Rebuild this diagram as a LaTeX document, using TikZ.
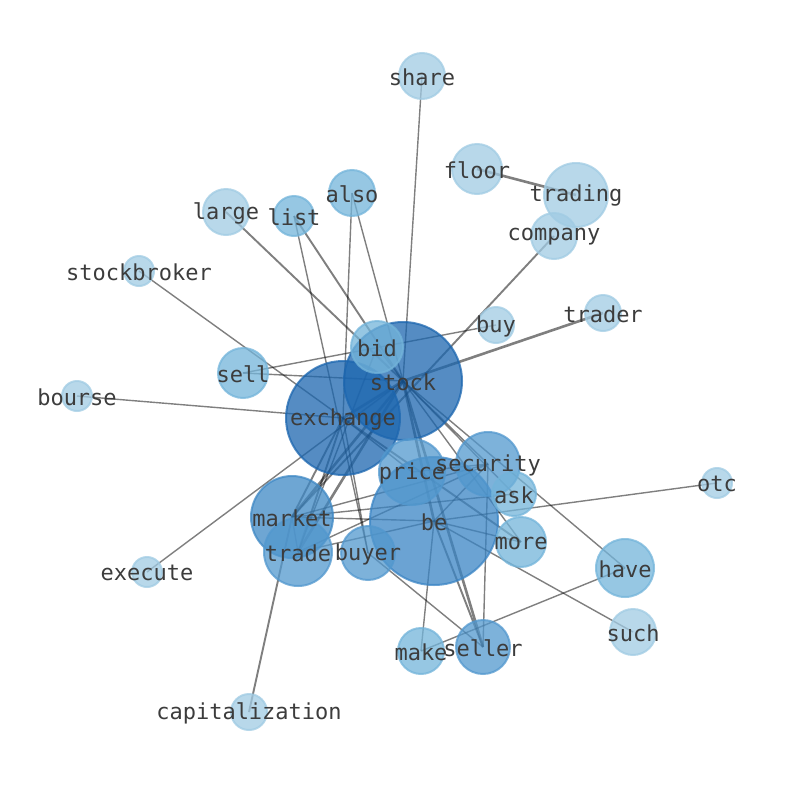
\documentclass[tikz,border=0pt]{standalone}
\usepackage{fontspec}
\newfontfamily\lblfont{DejaVu Sans Mono}
\definecolor{cA}{RGB}{160,203,227}
\definecolor{cB}{RGB}{115,180,218}
\definecolor{cC}{RGB}{82,152,206}
\definecolor{cD}{RGB}{62,136,196}
\definecolor{cE}{RGB}{58,132,196}
\definecolor{cF}{RGB}{28,102,175}
\definecolor{txt}{RGB}{60,60,60}
\tikzset{
  nd/.style={circle, inner sep=0pt, line width=2pt, fill opacity=0.75, draw opacity=0.75},
  lbl/.style={inner sep=0pt, text=txt, font=\lblfont\fontsize{22}{22}\selectfont},
  ethin/.style={draw=black, draw opacity=0.5, line width=1.4pt},
  emed/.style={draw=black, draw opacity=0.5, line width=1.9pt},
  ethk/.style={draw=black, draw opacity=0.5, line width=2.6pt},
}
\newcommand{\wnode}[5]{\node[nd, fill=#2, draw=#2, minimum size=#5pt] (#1) at (#3,#4) {};}
\begin{document}
\begin{tikzpicture}[x=1pt,y=-1pt]
\useasboundingbox (0,0) rectangle (794,790);
\coordinate (share) at (422,76);
\coordinate (floor) at (477,169);
\coordinate (trading) at (576,195);
\coordinate (also) at (352,193);
\coordinate (large) at (226,212);
\coordinate (list) at (294,216);
\coordinate (company) at (554,236);
\coordinate (stockbroker) at (139,271);
\coordinate (trader) at (603,313);
\coordinate (buy) at (496,325);
\coordinate (bid) at (377,347);
\coordinate (stock) at (403,381);
\coordinate (sell) at (243,373);
\coordinate (bourse) at (77,396);
\coordinate (exchange) at (343,418);
\coordinate (price) at (412,472);
\coordinate (security) at (488,464);
\coordinate (ask) at (514,494);
\coordinate (otc) at (717,483);
\coordinate (market) at (292,517);
\coordinate (be) at (434,521);
\coordinate (more) at (521,542);
\coordinate (trade) at (298,552);
\coordinate (buyer) at (368,553);
\coordinate (execute) at (147,572);
\coordinate (have) at (625,568);
\coordinate (such) at (633,632);
\coordinate (make) at (421,651);
\coordinate (seller) at (483,647);
\coordinate (capitalization) at (249,712);
% edges
\draw[ethin] (share) -- (stock);
\draw[ethk] (floor) -- (trading);
\draw[emed] (company) -- (market);
\draw[ethk] (trader) -- (stock);
\draw[ethin] (sell) -- (buy);
\draw[ethin] (sell) -- (stock);
\draw[ethin] (bourse) -- (exchange);
\draw[ethin] (stockbroker) -- (exchange);
\draw[emed] (large) -- (stock);
\draw[emed] (list) -- (stock);
\draw[ethin] (list) -- (buyer);
\draw[ethin] (also) -- (stock);
\draw[ethin] (also) -- (exchange);
\draw[ethin] (execute) -- (stock);
\draw[emed] (capitalization) -- (market);
\draw[ethin] (otc) -- (be);
\draw[ethin] (have) -- (stock);
\draw[ethin] (have) -- (make);
\draw[ethin] (such) -- (be);
\draw[ethin] (make) -- (be);
\draw[emed] (seller) -- (be);
\draw[ethk] (seller) -- (stock);
\draw[ethin] (seller) -- (security);
\draw[ethin] (seller) -- (buyer);
\draw[ethin] (exchange) -- (buyer);
\draw[ethin] (market) -- (be);
\draw[ethin] (trade) -- (be);
\draw[ethin] (market) -- (security);
\draw[ethin] (stock) -- (more);
\draw[ethk] (stock) -- (exchange);
\draw[ethin] (stock) -- (bid);
\draw[ethk] (stock) -- (be);
\draw[ethk] (stock) -- (market);
\draw[ethk] (stock) -- (trade);
\draw[emed] (exchange) -- (market);
\draw[emed] (exchange) -- (trade);
\draw[emed] (exchange) -- (more);
\draw[ethin] (exchange) -- (price);
\draw[ethin] (stock) -- (security);
\draw[ethin] (stock) -- (ask);
\draw[ethin] (be) -- (security);
\draw[ethin] (be) -- (more);
\draw[ethin] (market) -- (ask);
\draw[ethin] (trade) -- (security);
\draw[ethin] (market) -- (trade);
\draw[ethin] (bid) -- (trade);
\draw[ethin] (price) -- (security);
% nodes
\wnode{nshare}{cA}{422}{76}{46}
\wnode{nfloor}{cA}{477}{169}{50}
\wnode{ntrading}{cA}{576}{195}{64}
\wnode{nalso}{cB}{352}{193}{46}
\wnode{nlarge}{cA}{226}{212}{46}
\wnode{nlist}{cB}{294}{216}{40}
\wnode{ncompany}{cA}{554}{236}{46}
\wnode{nstockbroker}{cA}{139}{271}{30}
\wnode{ntrader}{cA}{603}{313}{36}
\wnode{nbuy}{cA}{496}{325}{36}
\wnode{nsell}{cB}{243}{373}{50}
\wnode{nbourse}{cA}{77}{396}{30}
\wnode{nexchange}{cF}{343}{418}{114}
\wnode{nstock}{cF}{403}{381}{118}
\wnode{nbid}{cB}{377}{347}{52}
\wnode{nbe}{cE}{434}{521}{128}
\wnode{nprice}{cC}{412}{472}{66}
\wnode{nsecurity}{cC}{488}{464}{64}
\wnode{nask}{cB}{514}{494}{44}
\wnode{notc}{cA}{717}{483}{30}
\wnode{nmarket}{cD}{292}{517}{82}
\wnode{nmore}{cB}{521}{542}{50}
\wnode{ntrade}{cC}{298}{552}{68}
\wnode{nbuyer}{cC}{368}{553}{54}
\wnode{nexecute}{cA}{147}{572}{30}
\wnode{nhave}{cB}{625}{568}{58}
\wnode{nsuch}{cA}{633}{632}{46}
\wnode{nmake}{cB}{421}{651}{46}
\wnode{nseller}{cC}{483}{647}{54}
\wnode{ncapitalization}{cA}{249}{712}{36}
% labels
\foreach \n in {share,floor,trading,also,large,list,company,stockbroker,trader,buy,bid,stock,sell,bourse,exchange,price,security,ask,otc,market,be,more,trade,buyer,execute,have,such,make,seller,capitalization}
  \node[lbl] (l\n) at ([yshift=-1pt]\n) {\n};
\end{tikzpicture}
\end{document}
